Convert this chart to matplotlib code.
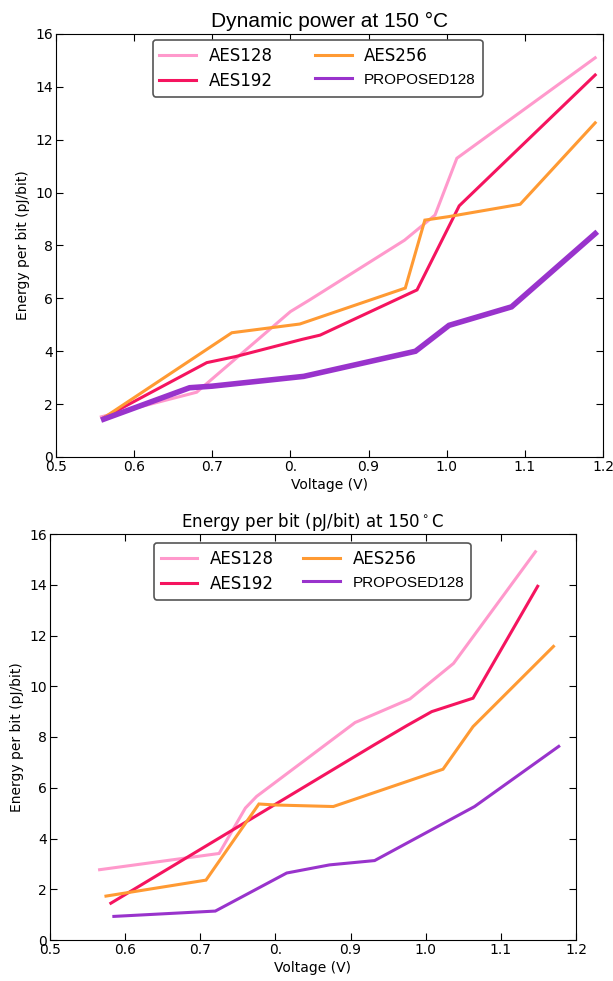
import numpy as np
import matplotlib
matplotlib.use('Agg')
import matplotlib.pyplot as plt

# top chart: dynamic power
v128_a = [0.558, 0.68, 0.80, 0.825, 0.946, 0.985, 1.013, 1.19]
e128_a = [1.52, 2.45, 5.5, 5.95, 8.2, 9.15, 11.3, 15.1]
v192_a = [0.562, 0.693, 0.73, 0.815, 0.838, 0.962, 1.016, 1.081, 1.19]
e192_a = [1.5, 3.57, 3.8, 4.45, 4.61, 6.32, 9.5, 11.35, 14.45]
v256_a = [0.562, 0.725, 0.812, 0.947, 0.972, 1.002, 1.094, 1.19]
e256_a = [1.5, 4.7, 5.03, 6.39, 8.96, 9.09, 9.56, 12.64]
vpro_a = [0.561, 0.671, 0.70, 0.817, 0.96, 1.003, 1.083, 1.19]
epro_a = [1.43, 2.62, 2.68, 3.05, 4.0, 4.98, 5.68, 8.45]

# bottom chart: energy per bit
v128_b = [0.566, 0.725, 0.76, 0.775, 0.906, 0.979, 1.037, 1.146]
e128_b = [2.77, 3.41, 5.2, 5.66, 8.57, 9.5, 10.9, 15.3]
v192_b = [0.581, 0.932, 0.975, 1.008, 1.063, 1.149]
e192_b = [1.45, 7.7, 8.45, 9.0, 9.53, 13.94]
v256_b = [0.5745, 0.7076, 0.778, 0.80, 0.877, 1.023, 1.063, 1.17]
e256_b = [1.73, 2.36, 5.36, 5.32, 5.26, 6.73, 8.41, 11.57]
vpro_b = [0.585, 0.72, 0.815, 0.872, 0.932, 1.065, 1.177]
epro_b = [0.93, 1.14, 2.64, 2.96, 3.13, 5.26, 7.63]

xticks = [0.5, 0.6, 0.7, 0.8, 0.9, 1.0, 1.1, 1.2]
xticklabels = ['0.5', '0.6', '0.7', '0.', '0.9', '1.0', '1.1', '1.2']
yticks = [0, 2, 4, 6, 8, 10, 12, 14, 16]
names = ['AES128', 'AES192', 'AES256', 'PROPOSED128']
colors = ['#ff99cc', '#f5145f', '#ff9a33', '#9933cc']

plt.rcParams['font.family'] = 'DejaVu Sans'

def drawpanel(ax, series, prolw, title, tfont, tsize, legbox):
    lines = []
    for i, (v, e) in enumerate(series):
        lw = prolw if i == 3 else 2.2
        l, = ax.plot(v, e, color=colors[i], lw=lw, solid_joinstyle='miter')
        lines.append(l)
    ax.set_xlim(0.5, 1.2)
    ax.set_ylim(0, 16)
    ax.set_xticks(xticks)
    ax.set_xticklabels(xticklabels)
    ax.set_yticks(yticks)
    ax.tick_params(direction='in', length=5, top=True, right=True, labelsize=10, pad=2)
    ax.set_xlabel('Voltage (V)', fontsize=10, labelpad=3)
    ax.set_ylabel('Energy per bit (pJ/bit)', fontsize=10, labelpad=4)
    ax.set_title(title, family=tfont, fontsize=tsize, pad=5)
    # column-major: AES128, AES192 | AES256, PROPOSED128
    leg = ax.legend(lines, names,
                    ncol=2, loc='upper left', bbox_to_anchor=legbox, mode='expand',
                    borderaxespad=0, fontsize=12, handlelength=2.2, fancybox=True,
                    edgecolor='#555555', framealpha=1, labelspacing=0.45,
                    columnspacing=1.5, handletextpad=0.75)
    leg.get_frame().set_linewidth(1.2)
    for lh in leg.get_lines():
        lh.set_linewidth(2.2)
    t = leg.get_texts()[3]
    t.set_family('Liberation Sans')
    t.set_fontsize(11)

fig = plt.figure(figsize=(6.13, 9.81), dpi=100)
ax1 = fig.add_axes([56/613, 1-457/981, 547/613, 423/981])
drawpanel(ax1, [(v128_a, e128_a), (v192_a, e192_a), (v256_a, e256_a), (vpro_a, epro_a)],
          4.0, 'Dynamic power at 150 \u00b0C', 'Liberation Sans', 15,
          (0.177, 0.851, 0.603, 0.135))
ax2 = fig.add_axes([50/613, 1-940/981, 526/613, 406/981])
drawpanel(ax2, [(v128_b, e128_b), (v192_b, e192_b), (v256_b, e256_b), (vpro_b, epro_b)],
          2.2, r'Energy per bit (pJ/bit) at 150$^\circ$C', 'DejaVu Sans', 12,
          (0.198, 0.845, 0.602, 0.133))

plt.savefig('out.png', dpi=100)
